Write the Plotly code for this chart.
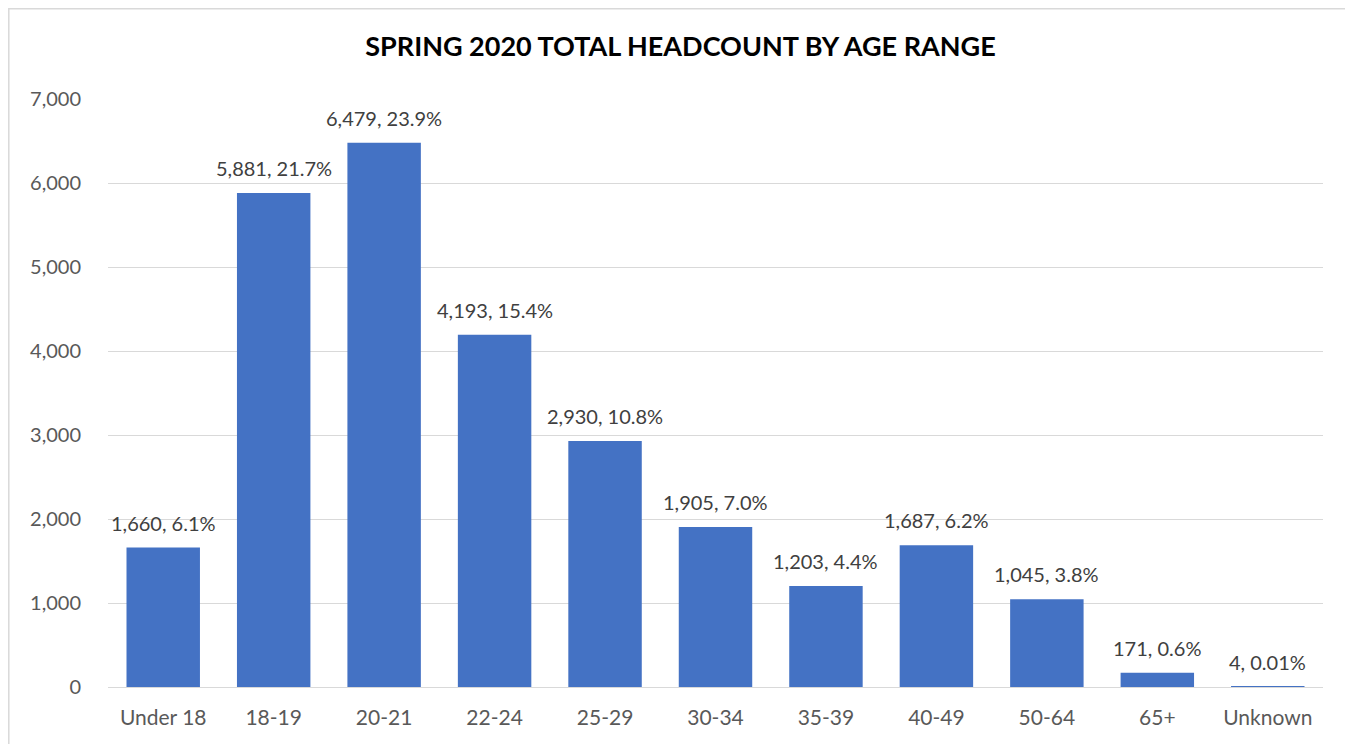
import plotly.graph_objects as go

categories = ["Under 18", "18-19", "20-21", "22-24", "25-29", "30-34", "35-39", "40-49", "50-64", "65+", "Unknown"]
headcount = [1660, 5881, 6479, 4193, 2930, 1905, 1203, 1687, 1045, 171, 4]
percent_labels = ["6.1%", "21.7%", "23.9%", "15.4%", "10.8%", "7.0%", "4.4%", "6.2%", "3.8%", "0.6%", "0.01%"]
y_ticks = [0, 1000, 2000, 3000, 4000, 5000, 6000, 7000]
title_text = "SPRING 2020 TOTAL HEADCOUNT BY AGE RANGE"

FONT = "Lato, Calibri, Carlito, sans-serif"
W, H = 1345, 736
L, R, T, B = 100, 30, 91, 57

fig = go.Figure()
fig.add_trace(go.Bar(
    x=categories, y=headcount,
    marker=dict(color="#4472C4", line=dict(width=0)),
    hoverinfo="x+y",
))

for c, v, p in zip(categories, headcount, percent_labels):
    fig.add_annotation(
        x=c, y=v, xref="x", yref="y",
        text=f"{v:,}, {p}", showarrow=False,
        yanchor="bottom", yshift=11,
        font=dict(family=FONT, size=20, color="#404040"),
    )

plot_w = W - L - R
plot_h = H - T - B
fig.add_shape(
    type="rect", xref="paper", yref="paper",
    x0=(0.8 - L) / plot_w, x1=(1343 - L) / plot_w,
    y0=-(H + 20 - (H - B)) / plot_h, y1=((H - B) - 0.8) / plot_h,
    line=dict(color="#d9d9d9", width=1.5), fillcolor="rgba(0,0,0,0)",
    layer="below",
)

fig.update_layout(
    width=W, height=H,
    margin=dict(l=L, r=R, t=T, b=B),
    paper_bgcolor="white", plot_bgcolor="white",
    bargap=0.335,
    showlegend=False,
    font=dict(family=FONT, size=20, color="#595959"),
    title=dict(
        text=f"<b>{title_text}</b>",
        x=0.5, xanchor="center", xref="container",
        y=1 - 39 / H, yanchor="middle", yref="container",
        font=dict(family=FONT, size=27, color="#000000"),
    ),
    xaxis=dict(
        showgrid=False, showline=True, linecolor="#d9d9d9", linewidth=1,
        ticks="", ticklabelstandoff=12,
        tickfont=dict(family=FONT, size=21, color="#595959"),
        zeroline=False,
    ),
    yaxis=dict(
        range=[0, 7000], tickvals=y_ticks, tickformat=",d",
        showgrid=True, gridcolor="#d9d9d9", gridwidth=1,
        zeroline=False, showline=False, ticks="",
        ticklabelstandoff=26,
        tickfont=dict(family=FONT, size=20, color="#595959"),
    ),
)

fig.write_html("out.html")
